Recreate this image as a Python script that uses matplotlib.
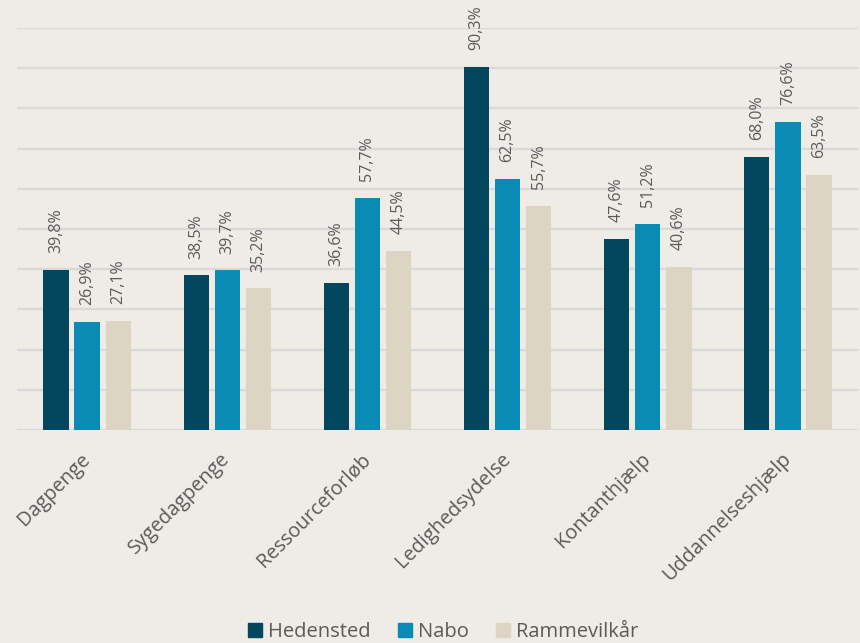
import numpy as np
import matplotlib
matplotlib.use('Agg')
import matplotlib.pyplot as plt
from matplotlib.patches import Patch

# Chart data
categories = ['Dagpenge', 'Sygedagpenge', 'Ressourceforløb', 'Ledighedsydelse',
              'Kontanthjælp', 'Uddannelseshjælp']
series_names = ['Hedensted', 'Nabo', 'Rammevilkår']
hedensted = [39.8, 38.5, 36.6, 90.3, 47.6, 68.0]
nabo = [26.9, 39.7, 57.7, 62.5, 51.2, 76.6]
rammevilkaar = [27.1, 35.2, 44.5, 55.7, 40.6, 63.5]

colors = ['#02475D', '#0A8BB5', '#DDD5C3']
bg = '#EFECE6'
text_col = '#5A5A5A'

plt.rcParams['font.family'] = ['Open Sans', 'DejaVu Sans']

fig = plt.figure(figsize=(8.6, 6.43), dpi=100, facecolor=bg)
ax = fig.add_axes([0.0198, 0.3313, 0.9779, 0.6252])
ax.set_facecolor(bg)

x = np.arange(len(categories))
width = 0.18
offset = 0.222
for i, (vals, c) in enumerate(zip([hedensted, nabo, rammevilkaar], colors)):
    pos = x + (i - 1) * offset
    ax.bar(pos, vals, width, color=c, zorder=3)
    for px, v in zip(pos, vals):
        ax.annotate(f'{v:.1f}%'.replace('.', ','), (px, v), xytext=(0, 12),
                    textcoords='offset points', rotation=90, ha='center',
                    va='bottom', fontsize=11.5, color=text_col)

ax.set_xlim(-0.5, len(categories) - 0.5)
ax.set_ylim(0, 100)
ax.set_yticks(np.arange(0, 101, 10))
ax.yaxis.grid(True, color='#D9D9D9', linewidth=1.6, zorder=0)
ax.set_yticklabels([])
ax.tick_params(axis='both', length=0)
for s in ax.spines.values():
    s.set_visible(False)

ax.set_xticks(x)
ax.set_xticklabels(categories, rotation=45, ha='right', va='center',
                   rotation_mode='anchor', fontsize=14.3, color=text_col)
ax.tick_params(axis='x', pad=19)

handles = [Patch(color=c, label=n) for c, n in zip(colors, series_names)]
fig.legend(handles=handles, loc='center', bbox_to_anchor=(0.515, 0.017),
           ncol=3, frameon=False, fontsize=14.5, handlelength=0.7,
           handleheight=0.7, handletextpad=0.3, columnspacing=1.35,
           labelcolor=text_col)

fig.savefig('out.png', dpi=100, facecolor=bg)
